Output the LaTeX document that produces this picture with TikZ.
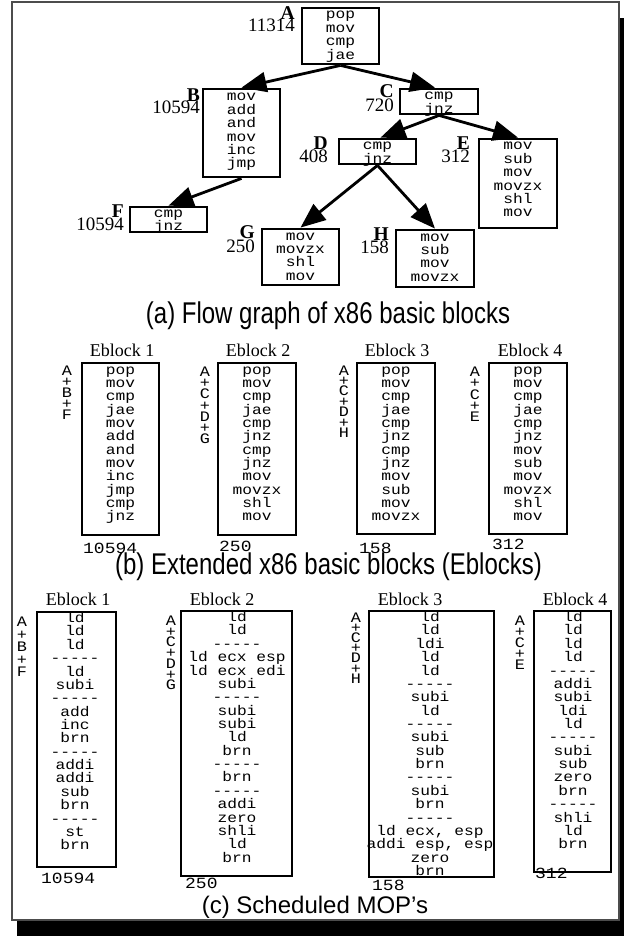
\documentclass[tikz,border=0pt]{standalone}
\usepackage{fontspec}
\setmainfont{Liberation Serif}
\newfontfamily\mono[FakeStretch=1.16]{Liberation Mono}
\newfontfamily\capfont[FakeStretch=0.80]{Liberation Sans}
\newfontfamily\capfontc{Liberation Sans}
\usetikzlibrary{arrows.meta,calc}

% separator row between scheduled groups (kerns keep the hyphens apart)
\newcommand\sep{-\kern0pt-\kern0pt-\kern0pt-\kern0pt-}

\tikzset{
  blk/.style={draw=black, line width=2.8pt, inner sep=0pt},
  code/.style={anchor=base, inner sep=0pt, font=\mono\fontsize{14}{14}\selectfont},
  stk/.style={anchor=base, inner sep=0pt, font=\mono\fontsize{14.5}{14.5}\selectfont},
  arr/.style={line width=2.8pt, -{Triangle[length=25pt,width=20pt]}},
  blab/.style={anchor=base east, inner sep=0pt, font=\bfseries\fontsize{19.5}{19.5}\selectfont},
  nlab/.style={anchor=base east, inner sep=0pt, font=\fontsize{19}{19}\selectfont},
  title/.style={anchor=base, inner sep=0pt, font=\fontsize{18}{18}\selectfont},
  cnt/.style={anchor=base west, inner sep=0pt, font=\mono\fontsize{15.5}{15.5}\selectfont},
  caption/.style={anchor=base, inner sep=0pt, font=\capfont\fontsize{30}{30}\selectfont},
  captionc/.style={anchor=base, inner sep=0pt, font=\capfontc\fontsize{24}{24}\selectfont},
}

% box from corner (x1,y1) to corner (x2,y2)
\newcommand\blk[5]{\node[blk, minimum width={#4-#2}, minimum height={#5-#3}] (#1) at ({(#2+#4)/2},{(#3+#5)/2}) {};}
% column of code lines: name, centre x, first baseline, line pitch, lines
\newcommand\col[5]{\foreach \t [count=\i] in {#5} {\node[code] (#1-\i) at (#2,{#3+(\i-1)*#4}) {\t};}}
% stacked block letters beside an Eblock
\newcommand\stack[5]{\foreach \t [count=\i] in {#5} {\node[stk] (#1-\i) at (#2,{#3+(\i-1)*#4}) {\t};}}

\begin{document}
\begin{tikzpicture}[x=1pt, y=-1pt]
\useasboundingbox (0,0) rectangle (624,936);
\fill[white] (0,0) rectangle (624,936);
% drop shadow and frame
\fill[black] (17,18) rectangle (624,936);
\draw[fill=white, draw=black!70, line width=1.5pt] (12,2) rectangle (619,920);

% ---------- (a) flow graph ----------
\col{tA}{340.5}{19}{13.35}{pop,mov,cmp,jae}
\col{tB}{241.5}{101}{13.35}{mov,add,and,mov,inc,jmp}
\col{tC}{439}{100}{13.35}{cmp,jnz}
\col{tD}{377.5}{150}{13.35}{cmp,jnz}
\col{tE}{518}{150}{13.35}{mov,sub,mov,movzx,shl,mov}
\col{tF}{168.5}{217}{13.35}{cmp,jnz}
\col{tG}{300.5}{240}{13.35}{mov,movzx,shl,mov}
\col{tH}{435}{241}{13.35}{mov,sub,mov,movzx}

\blk{A}{302}{8}{379}{64}
\blk{B}{203}{89}{280}{177}
\blk{C}{400}{89}{478}{114}
\blk{D}{339}{139}{416}{164}
\blk{E}{479}{139}{557}{228}
\blk{F}{130}{207}{207}{232}
\blk{G}{262}{229}{339}{285}
\blk{H}{396}{230}{474}{287}

\node[blab] (lA) at (295,20) {A};  \node[nlab] (nA) at (295,32) {11314};
\node[blab] (lB) at (200,102) {B}; \node[nlab] (nB) at (200,114) {10594};
\node[blab] (lC) at (394,98) {C};  \node[nlab] (nC) at (394,112) {720};
\node[blab] (lD) at (328,150) {D}; \node[nlab] (nD) at (328,163) {408};
\node[blab] (lE) at (470,150) {E}; \node[nlab] (nE) at (470,163) {312};
\node[blab] (lF) at (124,217) {F}; \node[nlab] (nF) at (124,230) {10594};
\node[blab] (lG) at (255,238) {G}; \node[nlab] (nG) at (255,252) {250};
\node[blab] (lH) at (389,240) {H}; \node[nlab] (nH) at (389,253) {158};

\draw[arr] (A.south) -- (B.north);
\draw[arr] (A.south) -- ($(C.north)+(-4,0)$);
\draw[arr] (B.south) -- (F.north);
\draw[arr] (C.south) -- ($(D.north)+(3,0)$);
\draw[arr] (C.south) -- (E.north);
\draw[arr] (D.south) -- (G.north);
\draw[arr] (D.south) -- (H.north);

\node[caption] (capa) at (328,323) {(a) Flow graph of x86 basic blocks};

% ---------- (b) extended blocks ----------
\node[title] (tb1) at (122,356) {Eblock 1};
\node[title] (tb2) at (258,356) {Eblock 2};
\node[title] (tb3) at (397,356) {Eblock 3};
\node[title] (tb4) at (530,356) {Eblock 4};

\stack{sb1}{67}{375}{11}{A,+,B,+,F}
\stack{sb2}{205}{376.5}{11.2}{A,+,C,+,D,+,G}
\stack{sb3}{344}{375}{10.4}{A,+,C,+,D,+,H}
\stack{sb4}{475}{376.5}{11.3}{A,+,C,+,E}

\col{xb1}{120.5}{374}{13.36}{pop,mov,cmp,jae,mov,add,and,mov,inc,jmp,cmp,jnz}
\col{xb2}{257}{374}{13.36}{pop,mov,cmp,jae,cmp,jnz,cmp,jnz,mov,movzx,shl,mov}
\col{xb3}{396}{374}{13.36}{pop,mov,cmp,jae,cmp,jnz,cmp,jnz,mov,sub,mov,movzx}
\col{xb4}{528}{374}{13.36}{pop,mov,cmp,jae,cmp,jnz,mov,sub,mov,movzx,shl,mov}

\blk{b1}{82}{363}{159}{535}
\blk{b2}{218}{363}{296}{535}
\blk{b3}{357}{363}{435}{534}
\blk{b4}{489}{363}{567}{534}

\node[cnt] (kb1) at (83,553) {10594};
\node[cnt] (kb2) at (219,551) {250};
\node[cnt] (kb3) at (359,553) {158};
\node[cnt] (kb4) at (492,549) {312};

\node[caption] (capb) at (328.5,574) {(b) Extended x86 basic blocks (Eblocks)};

% ---------- (c) scheduled MOPs ----------
\node[title] (tc1) at (78,605) {Eblock 1};
\node[title] (tc2) at (222,605) {Eblock 2};
\node[title] (tc3) at (410,605) {Eblock 3};
\node[title] (tc4) at (575,605) {Eblock 4};

\stack{sc1}{22}{626.5}{12.5}{A,+,B,+,F}
\stack{sc2}{171}{625.5}{10.7}{A,+,C,+,D,+,G}
\stack{sc3}{356}{622.5}{10.1}{A,+,C,+,D,+,H}
\stack{sc4}{520}{625.5}{11}{A,+,C,+,E}

\col{xc1}{75}{622.6}{13.36}{ld,ld,ld,\sep,ld,subi,\sep,add,inc,brn,\sep,addi,addi,sub,brn,\sep,st,brn}
\col{xc2}{237}{621.6}{13.36}{ld,ld,\sep,ld ecx esp,ld ecx edi,subi,\sep,subi,subi,ld,brn,\sep,brn,\sep,addi,zero,shli,ld,brn}
\col{xc3}{430}{621.6}{13.36}{ld,ld,ldi,ld,ld,\sep,subi,ld,\sep,subi,sub,brn,\sep,subi,brn,\sep,{ld ecx, esp},{addi esp, esp},zero,brn}
\col{xc4}{573}{621.6}{13.36}{ld,ld,ld,ld,\sep,addi,subi,ldi,ld,\sep,subi,sub,zero,brn,\sep,shli,ld,brn}

\blk{c1}{37}{612}{116}{867}
\blk{c2}{181}{611}{292}{876}
\blk{c3}{369}{611}{494}{877}
\blk{c4}{534}{611}{611}{872}

\node[cnt] (kc1) at (41,883) {10594};
\node[cnt] (kc2) at (185,888) {250};
\node[cnt] (kc3) at (372,890) {158};
\node[cnt] (kc4) at (535,878) {312};

\node[captionc] (capc) at (315,913) {(c) Scheduled MOP’s};
\end{tikzpicture}
\end{document}
